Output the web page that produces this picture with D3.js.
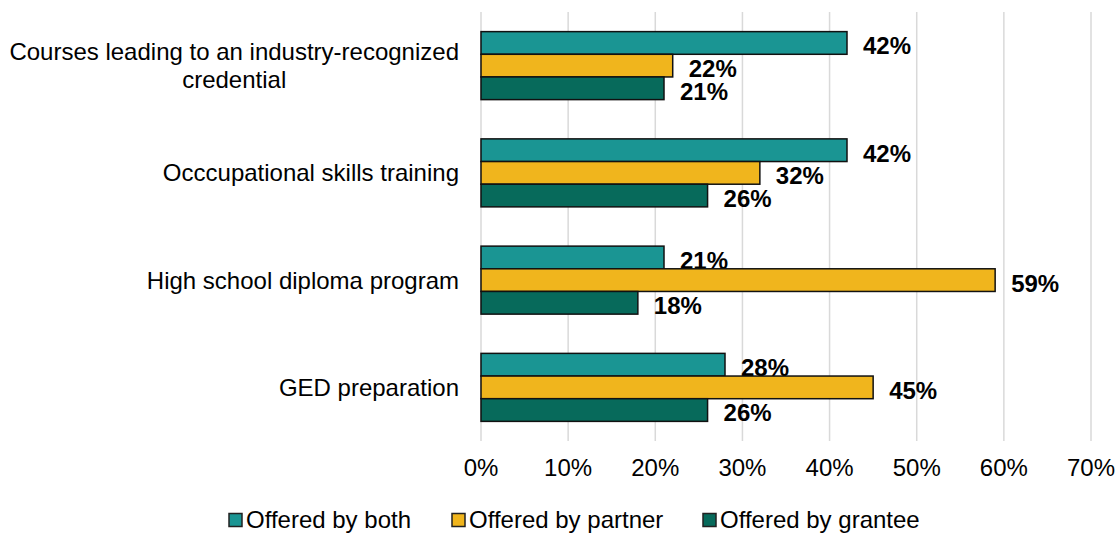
<!DOCTYPE html>
<html>
<head>
<meta charset="utf-8">
<script src="https://cdn.jsdelivr.net/npm/d3@7"></script>
<style>
  body { margin: 0; background: #fff; }
  text { font-family: "Liberation Sans", Arial, sans-serif; fill: #000; }
</style>
</head>
<body>
<script>
var width = 1119,
    height = 533;

var categories = [
    ["Courses leading to an industry-recognized", "credential"],
    ["Occcupational skills training"],
    ["High school diploma program"],
    ["GED preparation"]
];
var seriesNames = ["Offered by both", "Offered by partner", "Offered by grantee"];
var bothVals = [42, 42, 21, 28];
var partnerVals = [22, 32, 59, 45];
var granteeVals = [21, 26, 18, 26];
var ticks = [0, 10, 20, 30, 40, 50, 60, 70];
var colors = ["#1a9593", "#f0b51d", "#076a5b"];

var series = [bothVals, partnerVals, granteeVals];

var svg = d3.select("body").append("svg")
    .attr("width", width)
    .attr("height", height);

var x = d3.scaleLinear()
    .domain([0, 70])
    .range([481, 1091]);

var y = d3.scaleBand()
    .domain(d3.range(categories.length))
    .range([12, 441])
    .paddingInner(0.366)
    .paddingOuter(0.183);

var yInner = d3.scaleBand()
    .domain(d3.range(series.length))
    .range([0, y.bandwidth()]);

// gridlines
svg.append("g").selectAll("line")
    .data(ticks)
    .enter().append("line")
    .attr("x1", function(d) { return x(d); })
    .attr("x2", function(d) { return x(d); })
    .attr("y1", 12)
    .attr("y2", 441)
    .style("stroke", "#d9d9d9")
    .style("stroke-width", 1.5);

// tick labels
svg.append("g").selectAll("text")
    .data(ticks)
    .enter().append("text")
    .attr("x", function(d) { return x(d); })
    .attr("y", 468)
    .attr("dy", "0.35em")
    .attr("text-anchor", "middle")
    .style("font-size", "24px")
    .text(function(d) { return d + "%"; });

// bars
var groups = svg.append("g").selectAll("g")
    .data(categories)
    .enter().append("g")
    .attr("transform", function(d, i) { return "translate(0," + y(i) + ")"; });

groups.each(function(c, ci) {
    var g = d3.select(this);
    series.forEach(function(vals, si) {
        g.append("rect")
            .attr("x", x(0))
            .attr("y", yInner(si))
            .attr("width", x(vals[ci]) - x(0))
            .attr("height", yInner.bandwidth())
            .style("fill", colors[si])
            .style("stroke", "#111")
            .style("stroke-width", 1.5);
        g.append("text")
            .attr("x", x(vals[ci]) + 16)
            .attr("y", yInner(si) + yInner.bandwidth() / 2 + 3)
            .attr("dy", "0.35em")
            .style("font-size", "24px")
            .style("font-weight", "bold")
            .text(vals[ci] + "%");
    });
});

// category labels
svg.append("g").selectAll("text")
    .data(categories)
    .enter().append("text")
    .attr("text-anchor", "middle")
    .style("font-size", "24px")
    .each(function(lines, i) {
        var t = d3.select(this);
        var lineH = 28;
        var y0 = y(i) + y.bandwidth() / 2 - (lines.length - 1) * lineH / 2;
        lines.forEach(function(l, li) {
            t.append("tspan")
                .attr("x", 0)
                .attr("y", y0 + li * lineH)
                .attr("dy", "0.35em")
                .text(l);
        });
        var w = this.getBBox().width;
        t.selectAll("tspan").attr("x", 459 - w / 2);
    });

// legend
var legendX = [229, 452, 703];
var legend = svg.append("g").selectAll("g")
    .data(seriesNames)
    .enter().append("g")
    .attr("transform", function(d, i) { return "translate(" + legendX[i] + ",520)"; });

legend.append("rect")
    .attr("x", 0)
    .attr("y", -6.5)
    .attr("width", 13)
    .attr("height", 13)
    .style("fill", function(d, i) { return colors[i]; })
    .style("stroke", "#222")
    .style("stroke-width", 1.5);

legend.append("text")
    .attr("x", 17)
    .attr("y", 0)
    .attr("dy", "0.35em")
    .style("font-size", "24px")
    .text(function(d) { return d; });
</script>
</body>
</html>
